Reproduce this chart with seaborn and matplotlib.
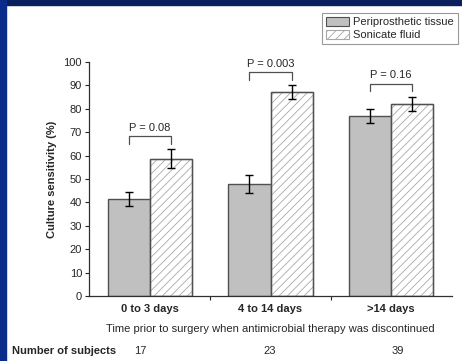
import numpy as np
import pandas as pd
import seaborn as sns
import matplotlib.pyplot as plt
from matplotlib.patches import Rectangle, Patch

groups = ["0 to 3 days", "4 to 14 days", ">14 days"]
series = ["Periprosthetic tissue", "Sonicate fluid"]
tissue = [41.3, 47.9, 76.9]
tissue_err = [3.0, 3.8, 3.0]
sonicate = [58.7, 87.0, 82.2]
sonicate_err = [4.0, 3.0, 3.0]
p_labels = ["P = 0.08", "P = 0.003", "P = 0.16"]
n_subjects = ["17", "23", "39"]

df = pd.DataFrame({
    "group": groups * 2,
    "series": [series[0]] * 3 + [series[1]] * 3,
    "value": tissue + sonicate,
})

sns.set_style("white")
plt.rcParams["font.family"] = ["Liberation Sans", "DejaVu Sans"]
plt.rcParams["hatch.linewidth"] = 0.6
fs = 8

fig = plt.figure(figsize=(4.62, 3.61), dpi=100)
ax = fig.add_axes([89 / 462, 1 - 296 / 361, 363 / 462, 234 / 361])

sns.barplot(
    data=df, x="group", y="value", hue="series",
    palette=["#c0c0c0", "white"], width=0.7, errorbar=None,
    edgecolor="#505050", linewidth=1.0, ax=ax, legend=False
)

# hatch the sonicate bars, redraw a dark outline on top
for bar in ax.containers[1]:
    bar.set_hatch("////")
    bar.set_edgecolor("#a8a8a8")
    ax.add_patch(Rectangle(bar.get_xy(), bar.get_width(), bar.get_height(),
                           fill=False, edgecolor="#505050", lw=1.0, zorder=3))

xs_t = [b.get_x() + b.get_width() / 2 for b in ax.containers[0]]
xs_s = [b.get_x() + b.get_width() / 2 for b in ax.containers[1]]
ax.errorbar(xs_t, tissue, yerr=tissue_err, fmt="none", ecolor="black",
            elinewidth=1.0, capsize=3, capthick=1.0, zorder=4)
ax.errorbar(xs_s, sonicate, yerr=sonicate_err, fmt="none", ecolor="black",
            elinewidth=1.0, capsize=3, capthick=1.0, zorder=4)

# p-value brackets
for i in range(3):
    top = max(tissue[i] + tissue_err[i], sonicate[i] + sonicate_err[i])
    y0 = top + 2.2
    y1 = top + 5.6
    ax.plot([xs_t[i], xs_t[i], xs_s[i], xs_s[i]], [y0, y1, y1, y0],
            color="#505050", lw=0.9, clip_on=False)
    ax.text((xs_t[i] + xs_s[i]) / 2, y1 + 1.5, p_labels[i], ha="center",
            va="bottom", fontsize=fs, clip_on=False)

ax.set_xlim(-0.506, 2.506)
ax.set_ylim(0, 100)
ax.set_yticks(np.arange(0, 101, 10))
ax.tick_params(axis="y", direction="out", length=3, width=0.8, labelsize=fs,
               left=True, pad=2)
ax.set_xticks([0.5, 1.5], minor=True)
ax.tick_params(axis="x", which="major", length=0, labelsize=fs, pad=6)
ax.tick_params(axis="x", which="minor", direction="out", length=3, width=0.8,
               bottom=True)
for lab in ax.get_xticklabels():
    lab.set_fontweight("bold")

for s in ["top", "right"]:
    ax.spines[s].set_visible(False)
for s in ["left", "bottom"]:
    ax.spines[s].set_color("#303030")
    ax.spines[s].set_linewidth(0.9)

ax.set_ylabel("Culture sensitivity (%)", fontsize=fs, fontweight="bold",
              labelpad=5)
ax.set_xlabel("Time prior to surgery when antimicrobial therapy was discontinued",
              fontsize=fs, labelpad=7)

# number of subjects row
fig.text(12 / 462, 1 - 351 / 361, "Number of subjects", fontsize=fs,
         fontweight="bold", va="center")
for i, n in enumerate(n_subjects):
    ax.text(i - 0.08 + 0.07 * i, -0.235, n, transform=ax.get_xaxis_transform(),
            ha="center", va="center", fontsize=fs)

handles = [Patch(facecolor="#c0c0c0", edgecolor="#505050", lw=0.8),
           Patch(facecolor="white", edgecolor="#a8a8a8", hatch="////", lw=0.8)]
leg = fig.legend(handles, series, loc="upper right",
                 bbox_to_anchor=(458 / 462, 1 - 13 / 361), fontsize=fs,
                 frameon=True, fancybox=False, borderpad=0.35,
                 handlelength=2.1, handleheight=0.9, handletextpad=0.35,
                 labelspacing=0.2, borderaxespad=0)
leg.get_frame().set_edgecolor("#808080")
leg.get_frame().set_linewidth(0.8)

# slide border
fig.patches.append(Rectangle((0, 1 - 5 / 361), 1, 5 / 361, transform=fig.transFigure,
                             color="#0a1f5e", zorder=10))
fig.patches.append(Rectangle((0, 0), 6 / 462, 1, transform=fig.transFigure,
                             color="#0a2c8a", zorder=10))

fig.savefig("out.png", dpi=100)
